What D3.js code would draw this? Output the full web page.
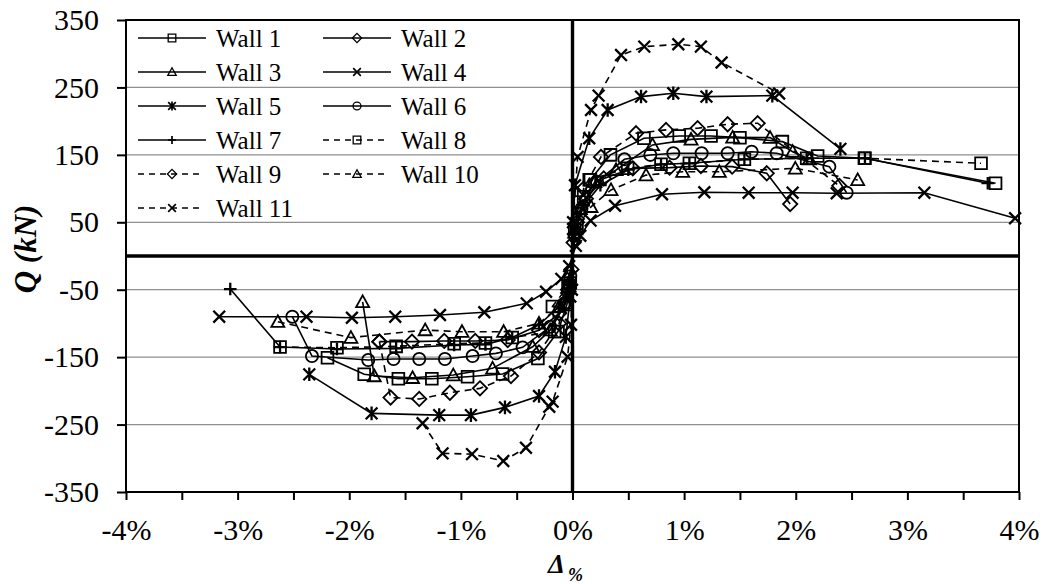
<!DOCTYPE html>
<html>
<head>
<meta charset="utf-8">
<script src="https://cdn.jsdelivr.net/npm/d3@7"></script>
<style>
  body { margin: 0; background: #fff; }
  svg { display: block; }
</style>
</head>
<body>
<svg id="chart" width="1046" height="584"></svg>
<script>
// Envelope curves: drift ratio Δ (%) against lateral load Q (kN), one array per wall.
const wall1 = [[-2.195,-151],[-1.866,-175.5],[-1.56,-182],[-1.26,-182],[-0.94,-179],[-0.626,-175],[-0.31,-152],[-0.13,-112],[-0.05,-72],[-0.02,-40],
               [0.02,40],[0.06,80],[0.16,113],[0.34,150],[0.64,174.6],[0.956,178],[1.241,178],[1.50,175.5],[1.88,169.6],[2.196,148.4],[2.615,145],[3.79,108]];
const wall2 = [[-1.73,-127],[-1.438,-127],[-1.149,-126],[-0.871,-126],[-0.58,-124.6],[-0.3,-110],[-0.12,-85],[-0.04,-50],[-0.01,-20],
               [0.01,20],[0.04,50],[0.12,85],[0.28,115],[0.54,130],[0.87,131],[1.15,133.5],[1.43,132.5],[1.74,122.7],[1.95,77]];
const wall3 = [[-1.88,-68],[-1.776,-178],[-1.433,-180.6],[-1.068,-176.6],[-0.716,-166.6],[-0.357,-134.6],[-0.2,-110],[-0.06,-70],[-0.02,-35],
               [0.02,35],[0.07,70],[0.2,110],[0.39,127.6],[0.717,164.7],[1.062,173],[1.435,176],[1.77,175.5],[1.972,154.7],[2.122,143.5]];
const wall4 = [[-3.165,-90],[-2.383,-90],[-1.976,-91.5],[-1.588,-90],[-1.187,-87.5],[-0.79,-83.5],[-0.41,-70.2],[-0.237,-53],[-0.1,-34],[-0.03,-15],
               [0.03,15],[0.07,30],[0.162,52.4],[0.381,74.6],[0.802,91.5],[1.181,94.5],[1.578,93.9],[1.972,93.9],[2.367,93],[3.152,93.9],[3.965,56]];
const wall5 = [[-2.358,-175.5],[-1.8,-233.4],[-1.194,-236],[-0.91,-236],[-0.605,-224.5],[-0.3,-207.7],[-0.157,-171.7],[-0.06,-120],[-0.02,-60],
               [0.005,40],[0.022,105],[0.15,174.6],[0.315,216.6],[0.614,236.4],[0.903,241.4],[1.2,236.4],[1.79,237.8],[2.4,158.8]];
const wall6 = [[-2.51,-90],[-2.334,-148.4],[-1.83,-154.3],[-1.603,-152.8],[-1.373,-152.8],[-1.143,-152.8],[-0.895,-148.4],[-0.686,-144.4],[-0.447,-135.5],[-0.2,-105],[-0.07,-70],[-0.02,-30],
               [0.02,30],[0.08,70],[0.22,110],[0.465,143.4],[0.697,149.9],[0.903,152.4],[1.157,152.4],[1.39,152.4],[1.605,154.7],[1.829,152.4],[2.301,132.5],[2.456,93.9]];
const wall7 = [[-3.066,-49],[-2.62,-135],[-2.11,-138],[-1.58,-137],[-1.06,-132],[-0.78,-131],[-0.54,-121],[-0.3,-102],[-0.12,-75],[-0.03,-40],
               [0.03,40],[0.1,75],[0.25,105],[0.5,128],[0.793,136],[1.047,137.5],[1.54,143.4],[2.098,145],[2.62,145],[3.72,108]];
const wall8 = [[-2.62,-135],[-2.11,-136],[-1.58,-134],[-1.06,-130],[-0.78,-129],[-0.54,-121],[-0.16,-112],[-0.18,-75],[-0.04,-45],
               [0.04,45],[0.1,88],[0.15,113],[0.494,130],[0.793,136],[1.047,137.5],[1.54,143.4],[2.098,145],[2.62,145],[3.66,137.5]];
const wall9 = [[-1.73,-127],[-1.63,-210],[-1.373,-212],[-1.098,-202.8],[-0.829,-196.3],[-0.551,-178],[-0.3,-143],[-0.12,-100],[-0.04,-55],
               [0.04,55],[0.1,100],[0.255,147],[0.569,182],[0.838,187],[1.121,189.5],[1.39,195.4],[1.659,196.9],[2.39,104]];
const wall10 = [[-2.64,-97.5],[-1.985,-121],[-1.32,-109.8],[-0.99,-112.3],[-0.617,-112.3],[-0.3,-100],[-0.12,-75],[-0.03,-40],
                [0.03,40],[0.166,73],[0.345,98],[0.659,120],[0.987,125],[1.315,125],[1.996,130],[2.555,112.8]];
const wall11 = [[-1.343,-248],[-1.164,-292.7],[-0.9,-293.8],[-0.62,-304],[-0.417,-284.4],[-0.208,-223.6],[-0.178,-216],[-0.044,-149.4],[-0.013,-102],[-0.005,-50],
                [0.005,50],[0.046,147],[0.166,216.6],[0.234,237.8],[0.435,298],[0.643,310.5],[0.948,314],[1.15,310.5],[1.336,287],[1.851,241]];

const wallNames = ["Wall 1","Wall 2","Wall 3","Wall 4","Wall 5","Wall 6","Wall 7","Wall 8","Wall 9","Wall 10","Wall 11"];
const wallData  = [wall1, wall2, wall3, wall4, wall5, wall6, wall7, wall8, wall9, wall10, wall11];
const wallMarks = ["square","diamond","triangle","cross","asterisk","circle","plus","square","diamond","triangle","cross"];
const wallDashed = [false,false,false,false,false,false,false,true,true,true,true];

const xTickValues = [-4,-3.5,-3,-2.5,-2,-1.5,-1,-0.5,0,0.5,1,1.5,2,2.5,3,3.5,4];
const yTickValues = [-350,-250,-150,-50,50,150,250,350];
const gridValues  = [-250,-150,-50,50,150,250];

const FONT = "'Liberation Serif','Times New Roman',serif";
const svg = d3.select("#chart");

const x = d3.scaleLinear().domain([-4, 4]).range([126, 1019]);
const y = d3.scaleLinear().domain([-350, 350]).range([492, 20]);

// marker outlines centred on 0,0; k scales them down for the legend
function markerPath(type, k) {
  const h = 5.6 * k;
  switch (type) {
    case "square":   return `M${-h},${-h}H${h}V${h}H${-h}Z`;
    case "diamond":  { const d = 6.8 * k; return `M0,${-d}L${d},0L0,${d}L${-d},0Z`; }
    case "triangle": { const t = 6.2 * k; return `M0,${-t}L${t},${t*0.8}L${-t},${t*0.8}Z`; }
    case "cross":    return `M${-h},${-h}L${h},${h}M${h},${-h}L${-h},${h}`;
    case "asterisk": return `M${-h},${-h}L${h},${h}M${h},${-h}L${-h},${h}M0,${-h*1.15}L0,${h*1.15}`;
    case "plus":     { const p = 6 * k; return `M${-p},0H${p}M0,${-p}V${p}`; }
    case "circle":   { const r = 5.8 * k; return `M${r},0A${r},${r} 0 1,1 ${-r},0A${r},${r} 0 1,1 ${r},0Z`; }
  }
}
const heavyMark = t => t === "cross" || t === "asterisk" || t === "plus";

// horizontal grid
svg.append("g").selectAll("line").data(gridValues).join("line")
  .attr("x1", x(-4)).attr("x2", x(4))
  .attr("y1", d => y(d)).attr("y2", d => y(d))
  .attr("stroke", "#8f8f8f").attr("stroke-width", 1.2);

// zero axes
svg.append("line").attr("x1", x(-4)).attr("x2", x(4)).attr("y1", y(0)).attr("y2", y(0))
  .attr("stroke", "#000").attr("stroke-width", 3.4);
svg.append("line").attr("x1", x(0)).attr("x2", x(0)).attr("y1", y(-350)).attr("y2", y(350))
  .attr("stroke", "#000").attr("stroke-width", 3.4);

// series lines
const line = d3.line().x(d => x(d[0])).y(d => y(d[1]));
const seriesG = svg.append("g");
wallData.forEach((data, i) => {
  seriesG.append("path").datum(data)
    .attr("d", line)
    .attr("fill", "none").attr("stroke", "#000").attr("stroke-width", 1.6)
    .attr("stroke-dasharray", wallDashed[i] ? "7,5" : null);
});
// series markers
wallData.forEach((data, i) => {
  seriesG.append("g").selectAll("path").data(data).join("path")
    .attr("transform", d => `translate(${x(d[0])},${y(d[1])})`)
    .attr("d", markerPath(wallMarks[i], 1.05))
    .attr("fill", "none").attr("stroke", "#000")
    .attr("stroke-width", heavyMark(wallMarks[i]) ? 2.3 : 1.8);
});

// plot frame
svg.append("rect").attr("x", x(-4)).attr("y", y(350))
  .attr("width", x(4) - x(-4)).attr("height", y(-350) - y(350))
  .attr("fill", "none").attr("stroke", "#000").attr("stroke-width", 2);

// axes
const xAxis = d3.axisBottom(x).tickValues(xTickValues).tickSize(8).tickPadding(19)
  .tickFormat(d => Number.isInteger(d) ? String(d) + "%" : "");
const gx = svg.append("g").attr("transform", `translate(0,${y(-350)})`).call(xAxis);
const yAxis = d3.axisLeft(y).tickValues(yTickValues).tickSize(9).tickPadding(18)
  .tickFormat(d => String(d));
const gy = svg.append("g").attr("transform", `translate(${x(-4)},0)`).call(yAxis);
[gx, gy].forEach(g => {
  g.attr("font-family", FONT);
  g.select(".domain").remove();
  g.selectAll(".tick line").attr("stroke", "#000").attr("stroke-width", 2);
  g.selectAll(".tick text").attr("fill", "#000").style("font-family", FONT).style("font-size", "30px");
});

// axis titles
svg.append("text").attr("transform", "translate(36,249) rotate(-90)")
  .attr("text-anchor", "middle")
  .style("font-family", FONT).style("font-size", "31px").style("font-weight", "bold").style("font-style", "italic")
  .text("Q (kN)");
const xt = svg.append("text").attr("x", 548).attr("y", 573)
  .style("font-family", FONT).style("font-weight", "bold").style("font-style", "italic");
xt.append("tspan").style("font-size", "27px").text("Δ");
xt.append("tspan").attr("dx", 3).attr("dy", 8).style("font-size", "18px").text("%");

// legend
const legend = svg.append("g");
wallNames.forEach((name, i) => {
  const col = i % 2, row = Math.floor(i / 2);
  const x0 = col === 0 ? 138 : 323;
  const ly = 38 + row * 34;
  const g = legend.append("g");
  g.append("line").attr("x1", x0).attr("x2", x0 + (wallDashed[i] ? 62 : 68)).attr("y1", ly).attr("y2", ly)
    .attr("stroke", "#000").attr("stroke-width", 1.3)
    .attr("stroke-dasharray", wallDashed[i] ? "6,5" : null);
  g.append("path").attr("transform", `translate(${x0 + 34},${ly})`)
    .attr("d", markerPath(wallMarks[i], 0.68))
    .attr("fill", "none").attr("stroke", "#000").attr("stroke-width", heavyMark(wallMarks[i]) ? 1.7 : 1.3);
  g.append("text").attr("x", x0 + 78).attr("y", ly + 8.5)
    .style("font-family", FONT).style("font-size", "25px").text(name);
});
</script>
</body>
</html>
